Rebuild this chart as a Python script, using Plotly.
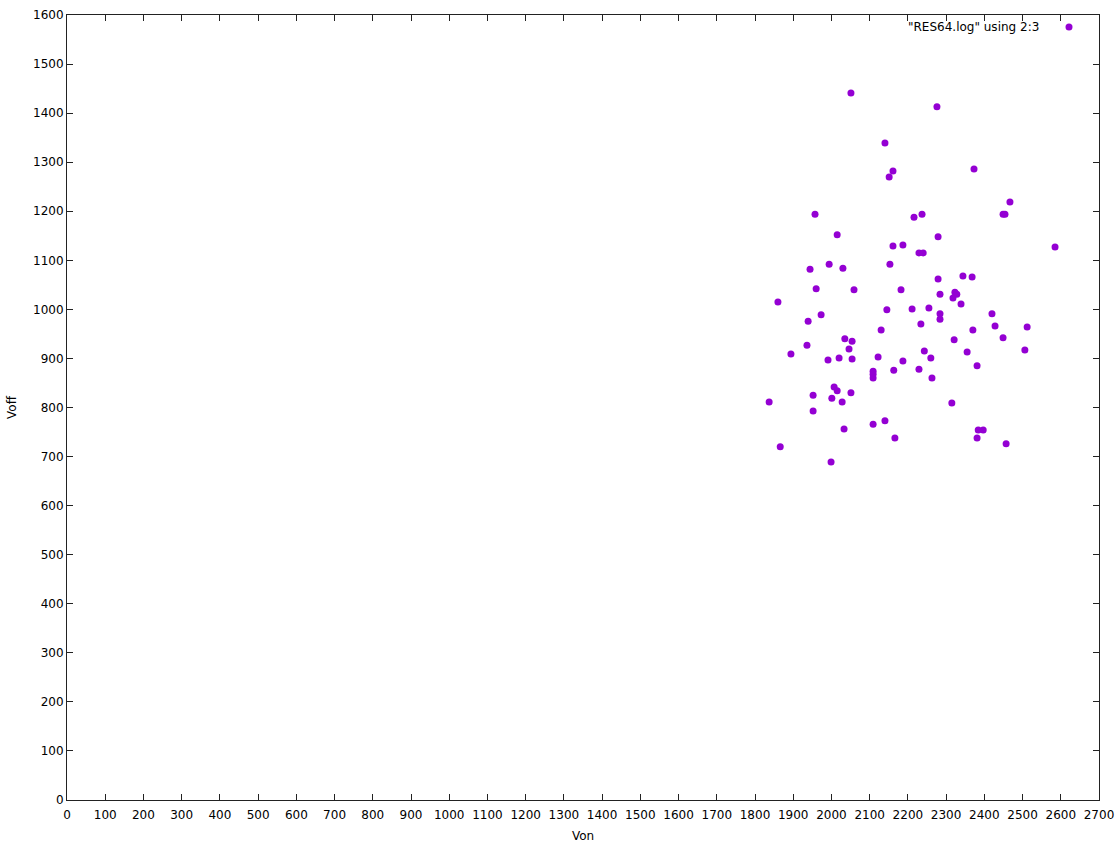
import plotly.graph_objects as go

# Data (Von, Voff)
von = [2051, 2276, 2140, 2161, 2151, 2373, 2467, 1957, 2216, 2237,
       2449, 2454, 2015, 2279, 2161, 2187, 2229, 2240, 2585, 1994,
       2153, 1944, 2030, 2344, 2368, 2279, 1960, 2059, 2182, 2284,
       2323, 2328, 2318, 1860, 2339, 2145, 2211, 2255, 1973, 2284,
       2420, 2284, 1939, 2234, 2428, 2512, 2370, 2130, 2449, 2321,
       2035, 2054, 1936, 2046, 2506, 2355, 2243, 1894, 2020, 2122,
       2260, 2054, 1991, 2187, 2381, 2109, 2163, 2229, 2109, 2109,
       2263, 2007, 2015, 1952, 2051, 2001, 1837, 2028, 2315, 1952,
       2109, 2140, 2033, 2384, 2397, 2381, 2166, 2457, 1866, 1999]
voff = [1441, 1413, 1339, 1282, 1270, 1286, 1219, 1194, 1188, 1194,
        1194, 1194, 1152, 1148, 1129, 1131, 1115, 1115, 1127, 1092,
        1092, 1082, 1084, 1068, 1066, 1062, 1042, 1040, 1040, 1031,
        1035, 1031, 1023, 1015, 1011, 999, 1001, 1003, 989, 991,
        991, 980, 976, 970, 966, 964, 958, 958, 942, 938,
        940, 935, 927, 919, 917, 913, 915, 909, 901, 903,
        901, 899, 897, 895, 885, 874, 876, 878, 868, 860,
        860, 842, 834, 825, 830, 819, 811, 811, 809, 793,
        766, 773, 756, 754, 754, 738, 738, 726, 720, 689]

legend_label = '"RES64.log" using 2:3'
color = "#9400D3"

x_ticks = list(range(0, 2701, 100))
y_ticks = list(range(0, 1601, 100))

fig = go.Figure()
fig.add_trace(go.Scatter(
    x=von, y=voff, mode="markers",
    marker=dict(color=color, size=7, line=dict(width=0)),
    name=legend_label, showlegend=False,
))

axis_common = dict(
    showgrid=False, zeroline=False, showline=True, linecolor="#222222",
    linewidth=1, mirror="ticks", ticks="inside", ticklen=6,
    tickcolor="#222222", tickwidth=1, automargin=False,
    tickfont=dict(family="DejaVu Sans", size=12, color="black"),
    title_font=dict(family="DejaVu Sans", size=12, color="black"),
)

fig.update_layout(
    width=1120, height=845,
    paper_bgcolor="white", plot_bgcolor="white",
    margin=dict(l=67, r=21, t=15, b=45),
    xaxis=dict(range=[0, 2700], tickvals=x_ticks, ticklabelstandoff=4,
               title=dict(text="Von", standoff=10), **axis_common),
    yaxis=dict(range=[0, 1600], tickvals=y_ticks,
               title=dict(text="Voff", standoff=13), **axis_common),
    annotations=[dict(
        text=legend_label, xref="paper", yref="paper",
        x=(1041 - 67) / 1032, y=1 - (27 - 15) / 785,
        xanchor="right", yanchor="middle", showarrow=False,
        font=dict(family="DejaVu Sans", size=12, color="black"),
    )],
    shapes=[dict(
        type="circle", xref="paper", yref="paper",
        x0=(1065.5 - 67) / 1032, x1=(1072.5 - 67) / 1032,
        y0=1 - (30.5 - 15) / 785, y1=1 - (23.5 - 15) / 785,
        fillcolor=color, line=dict(width=0),
    )],
)

fig.write_html("out.html", config={"displayModeBar": False},
               post_script="document.body.style.margin='0';document.body.style.overflow='hidden';")
